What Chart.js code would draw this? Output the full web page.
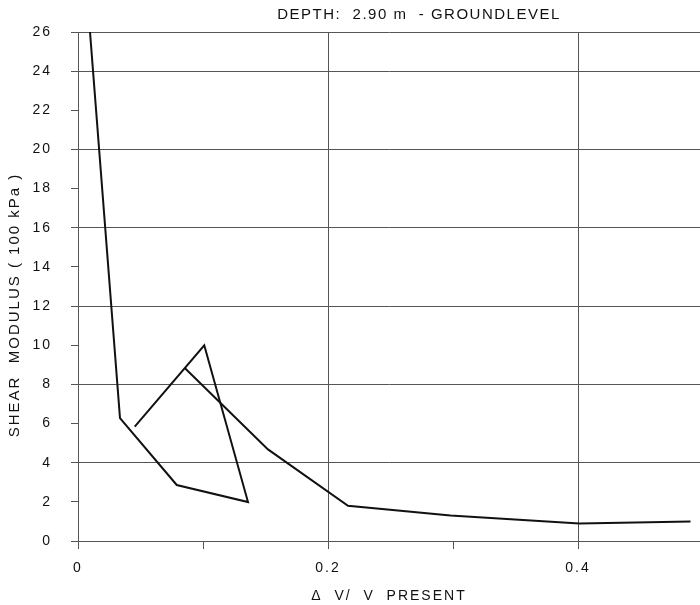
<!DOCTYPE html>
<html>
<head>
<meta charset="utf-8">
<script src="https://cdn.jsdelivr.net/npm/chart.js@4/dist/chart.umd.min.js"></script>
<style>
  html, body { margin: 0; padding: 0; background: #fff; overflow: hidden; }
  canvas { display: block; }
</style>
</head>
<body>
<canvas id="chart" width="700" height="605"></canvas>
<script>
//---------------------------------------
// Data
//---------------------------------------

const chartTitle = 'DEPTH:  2.90 m  - GROUNDLEVEL';
const xTitle = 'Δ  V/  V  PRESENT';
const yTitle = 'SHEAR  MODULUS ( 100 kPa )      ';

// loop branch (from the top down, round the triangle)
const loopX = [0.0096, 0.0336, 0.079, 0.136, 0.101, 0.0454];
const loopY = [26.0, 6.28, 2.86, 1.99, 10.0, 5.84];

// tail branch (from the kink out to the right)
const tailX = [0.0856, 0.152, 0.216, 0.298, 0.401, 0.49];
const tailY = [8.82, 4.68, 1.80, 1.30, 0.89, 1.0];

const xTicks = [0, 0.1, 0.2, 0.3, 0.4];
const xTickLabels = ['0', '', '0.2', '', '0.4'];
const xMax = 0.4976;
const yMax = 26;
const yStep = 2;

//---------------------------------------
// Chart
//---------------------------------------

const gridGrey = '#555';
const baseFont = '"Liberation Sans", Arial, sans-serif';

function toPoints(xs, ys) {
  let pts = [];
  for (let i = 0; i < xs.length; i++) {
    pts.push({x: xs[i], y: ys[i]});
  }
  return pts;
}

// title + letter spacing (plotter lettering is spaced out)
const textPlugin = {
  id: 'textPlugin',
  beforeDraw(chart) {
    chart.ctx.letterSpacing = '2px';
  },
  afterDraw(chart) {
    const ctx = chart.ctx;
    ctx.save();
    ctx.letterSpacing = '1.5px';
    ctx.fillStyle = '#111';
    ctx.font = '15px ' + baseFont;
    ctx.textAlign = 'center';
    ctx.textBaseline = 'middle';
    ctx.fillText(chartTitle, 419, 15);
    ctx.restore();
  }
};

const lineStyle = {
  showLine: true,
  borderColor: '#111',
  borderWidth: 2,
  pointRadius: 0,
  fill: false,
  tension: 0
};

new Chart(document.getElementById('chart'), {
  type: 'scatter',
  data: {
    datasets: [
      Object.assign({label: 'loop', data: toPoints(loopX, loopY)}, lineStyle),
      Object.assign({label: 'tail', data: toPoints(tailX, tailY)}, lineStyle)
    ]
  },
  options: {
    responsive: false,
    animation: false,
    layout: {padding: {top: 32, left: 0, right: 0, bottom: 0}},
    plugins: {
      legend: {display: false},
      tooltip: {enabled: false},
      title: {display: false}
    },
    scales: {
      x: {
        type: 'linear',
        min: 0,
        max: xMax,
        afterBuildTicks(scale) {
          scale.ticks = xTicks.map(v => ({value: v}));
        },
        afterFit(scale) {
          scale.height = 64;
        },
        grid: {
          color: c => (Math.round(c.tick.value * 10) % 2 === 0 ? gridGrey : 'rgba(0,0,0,0)'),
          tickColor: gridGrey,
          tickLength: 8,
          lineWidth: 1
        },
        border: {display: true, color: gridGrey, width: 1},
        ticks: {
          color: '#111',
          padding: 11,
          font: {family: baseFont, size: 14},
          maxRotation: 0,
          autoSkip: false,
          callback: (v, i) => xTickLabels[i]
        },
        title: {
          display: true,
          text: xTitle,
          color: '#111',
          font: {family: baseFont, size: 14},
          padding: {top: 9, bottom: 0}
        }
      },
      y: {
        type: 'linear',
        min: 0,
        max: yMax,
        afterFit(scale) {
          scale.width = 78;
        },
        grid: {
          color: c => (c.tick.value % 4 === 0 || c.tick.value === yMax ? gridGrey : 'rgba(0,0,0,0)'),
          tickColor: gridGrey,
          tickLength: 7,
          lineWidth: 1
        },
        border: {display: true, color: gridGrey, width: 1},
        ticks: {
          stepSize: yStep,
          color: '#111',
          padding: 19,
          font: {family: baseFont, size: 14}
        },
        title: {
          display: true,
          text: yTitle,
          color: '#111',
          font: {family: baseFont, size: 15},
          padding: {top: 6, bottom: 0}
        }
      }
    }
  },
  plugins: [textPlugin]
});
</script>
</body>
</html>
